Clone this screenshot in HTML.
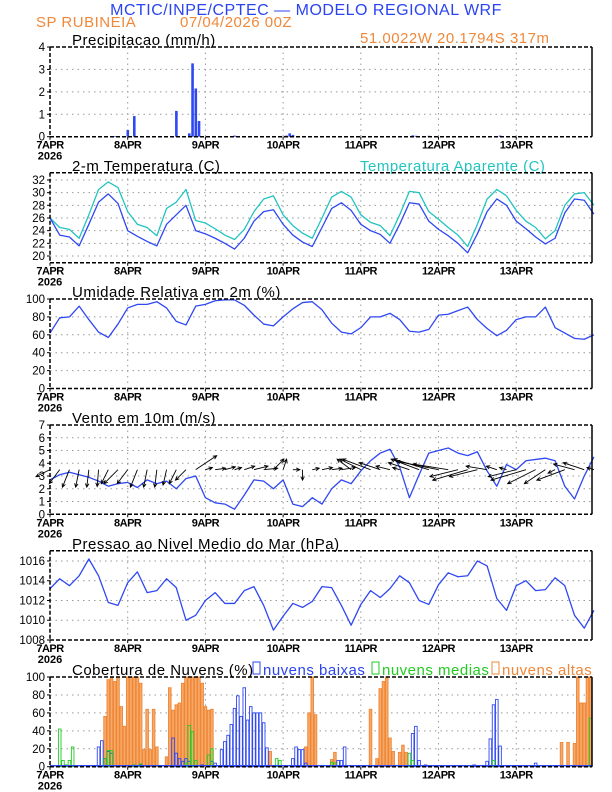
<!DOCTYPE html>
<html><head><meta charset="utf-8">
<style>
html,body{margin:0;padding:0;background:#fff;}
svg{display:block;}
text{font-family:"Liberation Sans",sans-serif;}
</style></head>
<body>
<svg id="chart" width="612" height="792" viewBox="0 0 612 792" xmlns="http://www.w3.org/2000/svg">
<text x="306" y="15" font-size="16" fill="#2a44f0" text-anchor="middle" letter-spacing="0.5">MCTIC/INPE/CPTEC — MODELO REGIONAL WRF</text>
<text x="36" y="27" font-size="15" fill="#f0883a" letter-spacing="0.5">SP RUBINEIA</text>
<text x="180" y="27" font-size="15" fill="#f0883a" letter-spacing="0.5">07/04/2026 00Z</text>
<text x="360" y="43" font-size="15" fill="#f0883a" letter-spacing="0.5">51.0022W 20.1794S 317m</text>
<text x="72" y="45" font-size="15" fill="#000" letter-spacing="0.5">Precipitacao (mm/h)</text>
<text x="72" y="171" font-size="15" fill="#000" letter-spacing="0.5">2-m Temperatura (C)</text>
<text x="360" y="171" font-size="15" fill="#22c4c0" letter-spacing="0.5">Temperatura Aparente (C)</text>
<text x="72" y="297" font-size="15" fill="#000" letter-spacing="0.5">Umidade Relativa em 2m (%)</text>
<text x="72" y="423" font-size="15" fill="#000" letter-spacing="0.5">Vento em 10m (m/s)</text>
<text x="72" y="549" font-size="15" fill="#000" letter-spacing="0.5">Pressao ao Nivel Medio do Mar (hPa)</text>
<text x="72" y="675" font-size="15" fill="#000" letter-spacing="0.5">Cobertura de Nuvens (%)</text>
<rect x="253" y="662" width="7" height="12" fill="none" stroke="#2a44f0" stroke-width="1"/>
<text x="263" y="675" font-size="15" fill="#2a44f0" letter-spacing="0.5">nuvens baixas</text>
<rect x="372" y="662" width="7" height="12" fill="none" stroke="#22cc22" stroke-width="1"/>
<text x="382" y="675" font-size="15" fill="#22cc22" letter-spacing="0.5">nuvens medias</text>
<rect x="492" y="662" width="7" height="12" fill="none" stroke="#f0883a" stroke-width="1"/>
<text x="502" y="675" font-size="15" fill="#f0883a" letter-spacing="0.5">nuvens altas</text>
</svg>
<script>
// ---- data ----
const dayLabels = ["7APR","8APR","9APR","10APR","11APR","12APR","13APR"];
const precipHours = [20,24,26,39,43,44,45,46,57,73,74,75,110,112,113,117,136,139];
const precipVals = [0.02,0.3,0.92,1.15,0.15,3.27,2.15,0.7,0.05,0.05,0.15,0.08,0.03,0.06,0.04,0.04,0.03,0.05];
const seriesHours = [0,3,6,9,12,15,18,21,24,27,30,33,36,39,42,45,48,51,54,57,60,63,66,69,72,75,78,81,84,87,90,93,96,99,102,105,108,111,114,117,120,123,126,129,132,135,138,141,144,147,150,153,156,159,162,165,168];
const tempVals = [26.0,23.3,23.0,21.6,25.0,28.5,29.8,28.3,24.0,23.1,22.3,21.6,25.0,26.5,28.0,24.0,23.5,22.8,22.0,21.1,22.8,25.5,27.0,27.3,25.0,23.3,22.2,21.5,24.5,27.5,28.4,27.2,25.0,24.0,23.4,22.0,25.0,28.4,28.2,25.5,24.2,23.2,22.0,20.5,23.5,27.0,29.0,28.0,25.5,24.3,23.0,21.9,22.8,26.8,29.0,28.8,26.6];
const apparentVals = [26.0,24.5,24.2,22.8,26.5,30.5,31.7,30.8,27.0,25.0,24.5,23.2,27.5,28.5,30.5,25.6,25.2,24.3,23.3,22.6,24.2,27.0,29.0,29.5,26.5,24.8,23.6,22.8,26.0,29.3,30.2,29.3,26.5,25.3,24.8,23.2,26.5,30.2,30.0,27.0,25.8,24.5,23.3,21.5,25.0,29.0,30.5,29.5,27.2,25.5,24.5,22.7,24.0,28.0,29.8,30.0,28.0];
const humidityVals = [62,79,80,92,77,63,57,72,90,94,94,97,90,75,71,92,94,98,99,99,93,82,72,70,80,89,96,97,88,73,63,61,68,80,80,84,77,64,63,66,82,83,87,91,77,67,59,65,77,80,80,91,68,62,56,55,60];
const windSpeedVals = [2.7,3.1,3.3,3.1,2.9,2.6,2.2,2.4,2.5,2.1,2.7,2.4,2.6,2.0,2.8,3.0,1.3,0.9,0.8,0.4,1.5,2.7,2.6,2.0,2.7,0.8,0.6,1.3,0.8,2.0,2.7,2.4,3.4,4.2,4.8,5.1,3.7,1.3,3.1,4.8,5.0,5.2,4.8,4.6,4.9,3.4,2.2,3.9,3.5,4.2,4.3,4.4,4.2,2.2,1.2,3.0,4.5];
const windU = [-2,-1.5,-1,-0.5,-0.3,-0.2,-1,-2,-1.5,-1,-0.5,-0.3,-0.5,-1,-1.5,3,1,1.5,1.5,1,1.5,2,2,1.5,0.5,1,0,1,1.5,1.5,2,-2,-3,-4,-3,-2,-1,-3,-4,-5,-6,-5,-4,-5,-4,-3,-1.5,-1,-4,-5,-4,-3,-1,-4,-3,-3,-1];
const windV = [-1,-2,-2.5,-2.5,-2.5,-2.4,-2,-2,-2,-2.5,-2.5,-2.5,-2.2,-2,-1.5,2,0.3,0.2,0.4,0.3,0.5,0.5,0.2,1.5,1.5,0,-1.5,0.2,0.3,0.2,0.3,1.5,1.5,1.5,1,0.5,0.3,1,1.5,1.5,1.2,0.8,-1,-1.5,-1,0.5,0.5,0.3,-1,-1.5,-2,-2,-0.5,-1.5,0.8,1,0.3];
const pressureVals = [1013.2,1014.2,1013.5,1014.5,1016.2,1014.5,1011.8,1011.5,1013.8,1014.9,1012.8,1013.0,1014.2,1013.3,1010.0,1010.5,1012.0,1012.8,1011.7,1011.7,1013.0,1013.4,1011.5,1009.0,1010.4,1011.7,1011.3,1011.9,1013.4,1013.3,1011.5,1009.5,1011.6,1013.0,1012.3,1013.2,1014.5,1013.8,1012.0,1011.6,1013.6,1014.8,1014.4,1014.5,1016.0,1015.5,1012.2,1011.0,1013.5,1014.0,1013.0,1013.1,1014.3,1013.5,1010.5,1009.2,1011.0];
const cloudHighHours = [17,18,19,20,21,22,23,24,25,26,27,28,29,30,31,32,33,36,37,38,39,40,41,42,43,44,45,46,47,48,49,50,68,79,80,81,82,87,88,99,101,102,103,104,105,106,108,109,110,158,160,162,163,164,165,166,167];
const cloudHighVals = [56,97,99,95,100,67,45,100,100,100,100,93,19,64,19,64,22,11,88,63,69,71,93,100,100,100,100,100,93,67,63,64,17,22,60,100,58,8,16,64,9,87,95,100,32,17,16,24,16,27,27,26,100,71,71,100,100];
const cloudMidHours = [3,4,5,6,7,17,18,19,26,28,42,43,44,45,49,50,70,71,87,88,111,112,137,167];
const cloudMidVals = [42,7,2,7,22,9,18,18,2,3,4,46,39,7,13,20,9,7,5,4,15,7,7,54];
const cloudLowHours = [15,16,17,18,19,28,38,39,40,41,42,43,47,50,51,53,54,55,56,57,58,59,60,61,62,63,64,65,66,67,75,76,77,78,79,89,90,91,112,113,114,116,131,135,136,137,138,139,150];
const cloudLowVals = [22,29,9,17,15,2,32,15,9,6,9,6,2,6,4,19,28,35,47,65,79,56,88,52,67,60,60,60,49,21,9,22,19,19,4,7,7,22,37,45,7,2,2,6,31,69,75,23,4];

// ---- layout ----
const NS = "http://www.w3.org/2000/svg";
const svg = document.getElementById('chart');
const X0 = 50, X1 = 592, HOURS = 167.4;
function xOf(h){ return X0 + (X1 - X0) * h / HOURS; }
function mk(tag, attrs, parent){
  const e = document.createElementNS(NS, tag);
  for (const k in attrs) e.setAttribute(k, attrs[k]);
  (parent || svg).appendChild(e);
  return e;
}
const panels = {
  precip:  {top:47,    bottom:136.7, min:0,     max:4,       ticks:[0,1,2,3,4]},
  temp:    {top:172.7, bottom:262.7, min:18.94, max:33.15,   ticks:[20,22,24,26,28,30,32]},
  hum:     {top:299,   bottom:388.5, min:0,     max:100,     ticks:[0,20,40,60,80,100]},
  wind:    {top:425,   bottom:514.3, min:0,     max:7,       ticks:[0,1,2,3,4,5,6,7]},
  press:   {top:550.7, bottom:640,   min:1008,  max:1017.04, ticks:[1008,1010,1012,1014,1016]},
  cloud:   {top:677,   bottom:766.7, min:0,     max:100,     ticks:[0,20,40,60,80,100]}
};
function yOf(p, v){ return p.bottom - (v - p.min) / (p.max - p.min) * (p.bottom - p.top); }

function drawPanel(key, p){
  const g = mk('g', {});
  
  
  // gridlines
  p.ticks.forEach(t => {
    const y = yOf(p, t);
    if (y > p.top + 1 && y < p.bottom - 1) {
      const l = mk('line', {x1:X0, x2:X1, y1:y, y2:y, stroke:'#999', 'stroke-width':1, 'stroke-dasharray':'1.5,4'}, g);
      
      
    }
    const tl = mk('text', {x:X0 - 5, y:y + 4, 'font-size':11.5, 'text-anchor':'end', fill:'#000'}, g);
    tl.textContent = t;
    
    
    mk('line', {x1:X0 - 3, x2:X0, y1:y, y2:y, stroke:'#000', 'stroke-width':1}, g);
  });
  dayLabels.forEach((d, i) => {
    const x = xOf(i * 24);
    if (i > 0) {
      const l = mk('line', {x1:x, x2:x, y1:p.top, y2:p.bottom, stroke:'#999', 'stroke-width':1, 'stroke-dasharray':'1.5,4'}, g);
      
      
    }
    const t = mk('text', {x:x, y:p.bottom + 12, 'font-size':11, 'font-weight':'bold', 'text-anchor':'middle', fill:'#000', 'letter-spacing':'-0.5'}, g);
    t.textContent = d;
    
    
    mk('line', {x1:x, x2:x, y1:p.bottom, y2:p.bottom + 3, stroke:'#000', 'stroke-width':1}, g);
  });
  const yr = mk('text', {x:xOf(0), y:p.bottom + 23, 'font-size':11, 'font-weight':'bold', 'text-anchor':'middle', fill:'#000'}, g);
  yr.textContent = '2026';
  
  
  return g;
}
function drawFrame(key, p){
  const f = mk('g', {});
  
  
  mk('line', {x1:X0, x2:X1, y1:p.top, y2:p.top, stroke:'#000', 'stroke-width':1.5, 'stroke-dasharray':'4,2'}, f);
  mk('line', {x1:X0, x2:X1, y1:p.bottom, y2:p.bottom, stroke:'#000', 'stroke-width':1.5, 'stroke-dasharray':'4,2'}, f);
  mk('line', {x1:X0, x2:X0, y1:p.top, y2:p.bottom, stroke:'#000', 'stroke-width':1.5, 'stroke-dasharray':'4,2'}, f);
  mk('line', {x1:X1, x2:X1, y1:p.top, y2:p.bottom, stroke:'#000', 'stroke-width':1.5}, f);
}
function linePath(p, hours, vals, color, name, parent){
  let d = '';
  hours.forEach((h, i) => { d += (i ? 'L' : 'M') + xOf(h).toFixed(2) + ',' + yOf(p, vals[i]).toFixed(2); });
  const e = mk('path', {d:d, fill:'none', stroke:color, 'stroke-width':1.3, 'stroke-linejoin':'round'}, parent);
  
  
  return e;
}

for (const k in panels) drawPanel(k, panels[k]);

const BLUE = '#2f48f2';
// precipitation bars
{
  const p = panels.precip;
  const g = mk('g', {});
  
  
  precipHours.forEach((h, i) => {
    const y = yOf(p, precipVals[i]);
    const r = mk('rect', {x:xOf(h) - 1.2, y:y, width:2.6, height:Math.max(0.6, p.bottom - y), fill:BLUE}, g);
    
    
  });
}
// temperature
linePath(panels.temp, seriesHours, apparentVals, '#22c4c0', 'apparent-temp-line');
linePath(panels.temp, seriesHours, tempVals, BLUE, 'temp-line');
// humidity
linePath(panels.hum, seriesHours, humidityVals, BLUE, 'humidity-line');
// wind
linePath(panels.wind, seriesHours, windSpeedVals, BLUE, 'wind-speed-line');
{
  const p = panels.wind;
  const g = mk('g', {});
  
  
  const base = yOf(p, 3.5), S = 7;
  windU.forEach((u, i) => {
    const x0 = xOf(seriesHours[i]), v = windV[i];
    const x1 = x0 + u * S, y1 = base - v * S;
    const ang = Math.atan2(y1 - base, x1 - x0), hl = 4;
    const d = 'M' + x0 + ',' + base + 'L' + x1 + ',' + y1 +
      'M' + (x1 - hl * Math.cos(ang - 0.45)) + ',' + (y1 - hl * Math.sin(ang - 0.45)) + 'L' + x1 + ',' + y1 +
      'L' + (x1 - hl * Math.cos(ang + 0.45)) + ',' + (y1 - hl * Math.sin(ang + 0.45));
    const a = mk('path', {d:d, fill:'none', stroke:'#000', 'stroke-width':0.9}, g);
    
    
  });
}
// pressure
linePath(panels.press, seriesHours, pressureVals, BLUE, 'pressure-line');
// clouds
function cloudBars(hours, vals, fill, stroke, name){
  const p = panels.cloud;
  const g = mk('g', {});
  
  
  hours.forEach((h, i) => {
    const y = yOf(p, vals[i]);
    const r = mk('rect', {x:xOf(h) - 1.3, y:y, width:2.6, height:p.bottom - y, fill:fill, stroke:stroke, 'stroke-width':0.9}, g);
    
    
  });
}
cloudBars(cloudHighHours, cloudHighVals, '#f6a968', '#ef8635', 'cloud-high');
cloudBars(cloudLowHours, cloudLowVals, 'none', BLUE, 'cloud-low');
cloudBars(cloudMidHours, cloudMidVals, 'none', '#22cc22', 'cloud-mid');
{
  const p = panels.cloud;
  const bl = mk('line', {x1:X0, x2:X1, y1:p.bottom - 1, y2:p.bottom - 1, stroke:BLUE, 'stroke-width':1.5});
  
  
}
for (const k in panels) drawFrame(k, panels[k]);
</script>
</body></html>
